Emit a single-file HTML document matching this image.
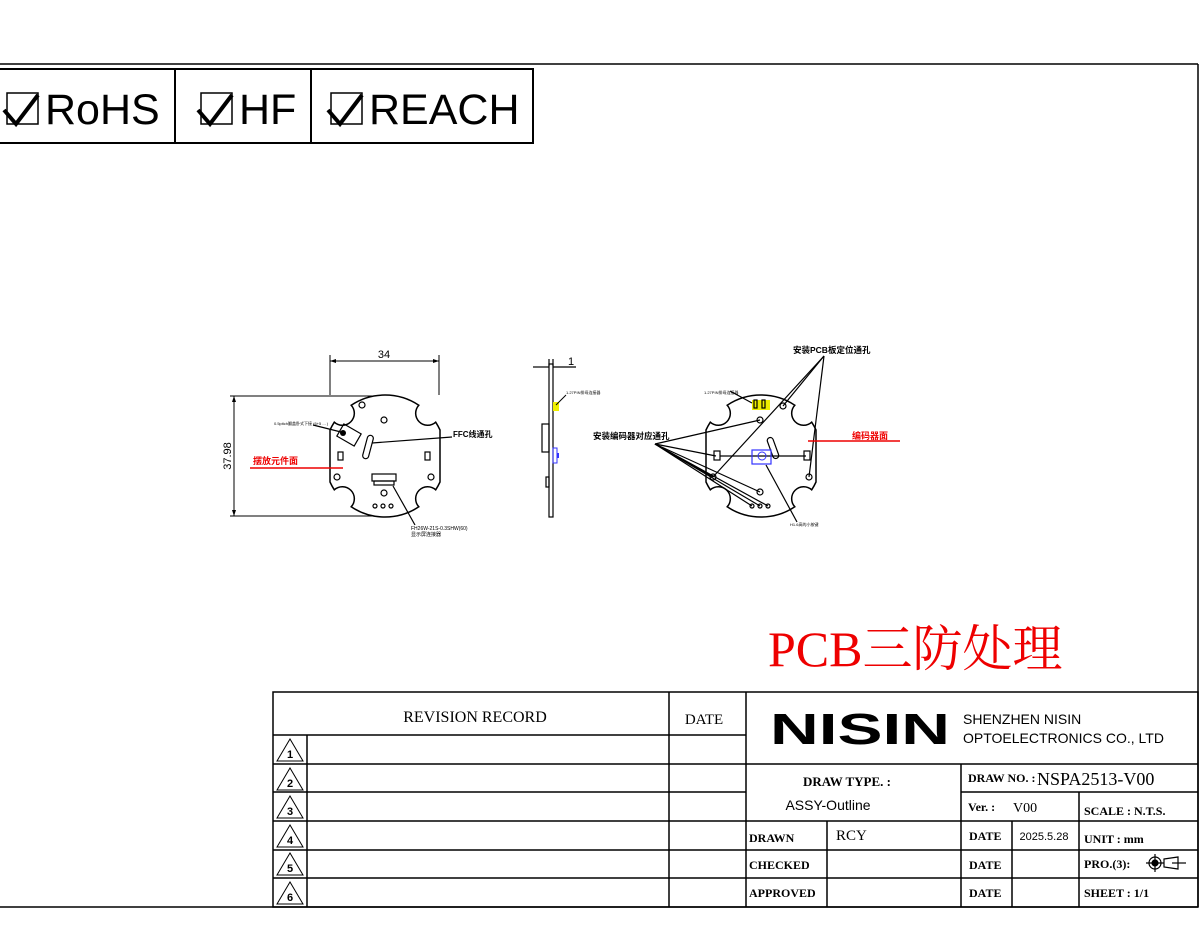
<!DOCTYPE html>
<html><head><meta charset="utf-8"><style>
html,body{margin:0;padding:0;background:#fff;}
svg{display:block;}
.s{font-family:"Liberation Sans","Noto Sans CJK SC",sans-serif;}
.m{font-family:"Liberation Serif","Noto Serif CJK SC",serif;}
</style></head><body>
<svg width="1200" height="939" viewBox="0 0 1200 939" xmlns="http://www.w3.org/2000/svg">
<defs>
<path id="pcb" fill="#fff" stroke="#000" stroke-width="1.5" d="M0,-61 A61,61 0 0 1 33.8,-50.8 A12,12 0 0 0 50.7,-33.8 A61,61 0 0 1 55,-26 L55,26 A61,61 0 0 1 50.7,33.8 A12,12 0 0 0 33.8,50.8 A61,61 0 0 1 -33.8,50.8 A12,12 0 0 0 -50.7,33.8 A61,61 0 0 1 -55,26 L-55,-26 A61,61 0 0 1 -50.7,-33.8 A12,12 0 0 0 -33.8,-50.8 A61,61 0 0 1 0,-61 Z"/>
</defs>
<line x1="0" y1="64" x2="1198" y2="64" stroke="#000" stroke-width="1.5"/>
<line x1="1198" y1="64" x2="1198" y2="907" stroke="#000" stroke-width="1.5"/>
<line x1="0" y1="907" x2="1198" y2="907" stroke="#000" stroke-width="1.5"/>
<rect x="-2" y="69" width="535" height="74" fill="none" stroke="#000" stroke-width="2"/>
<line x1="175" y1="69" x2="175" y2="143" stroke="#000" stroke-width="2"/>
<line x1="311" y1="69" x2="311" y2="143" stroke="#000" stroke-width="2"/>
<g fill="none" stroke="#000">
<rect x="7" y="93" width="31" height="31" stroke-width="1.5"/>
<path d="M4,110 L16,124 L38,95" stroke-width="4"/>
<rect x="201" y="93" width="31" height="31" stroke-width="1.5"/>
<path d="M198,110 L210,124 L232,95" stroke-width="4"/>
<rect x="331" y="93" width="31" height="31" stroke-width="1.5"/>
<path d="M328,110 L340,124 L362,95" stroke-width="4"/>
</g>
<text x="45" y="124" class="s" font-size="43">RoHS</text>
<text x="239" y="124" class="s" font-size="43">HF</text>
<text x="369" y="124" class="s" font-size="43">REACH</text>

<g stroke="#000" stroke-width="1" fill="none">
<line x1="330" y1="355" x2="330" y2="395"/>
<line x1="439" y1="355" x2="439" y2="395"/>
<line x1="330" y1="361" x2="439" y2="361"/>
<line x1="230" y1="396" x2="385" y2="396"/>
<line x1="230" y1="516" x2="385" y2="516"/>
<line x1="234" y1="396" x2="234" y2="516"/>
</g>
<path d="M330,361 l6,-2 v4z M439,361 l-6,-2 v4z M234,396 l-2,6 h4z M234,516 l-2,-6 h4z" fill="#000"/>
<text x="384" y="358" class="s" font-size="11" text-anchor="middle">34</text>
<text x="231" y="456" class="s" font-size="11" text-anchor="middle" transform="rotate(-90 231 456)">37.98</text>
<use href="#pcb" x="385" y="456"/>
<g fill="none" stroke="#000" stroke-width="1.2">
<circle cx="362" cy="405" r="3"/><circle cx="384" cy="420" r="3"/>
<circle cx="337" cy="477" r="3"/><circle cx="431" cy="477" r="3"/>
<circle cx="384" cy="493" r="3"/>
<circle cx="375" cy="506" r="2"/><circle cx="383" cy="506" r="2"/><circle cx="391" cy="506" r="2"/>
<rect x="338" y="452" width="5" height="8"/><rect x="425" y="452" width="5" height="8"/>
<rect x="339" y="428" width="20" height="14" transform="rotate(30 349 435)"/>
<rect x="365" y="435" width="6" height="24" rx="3" transform="rotate(15 368 447)"/>
<rect x="372" y="474" width="24" height="7"/><rect x="374" y="481" width="20" height="4"/>
<line x1="372" y1="443" x2="452" y2="437"/>
<line x1="393" y1="486" x2="415" y2="525"/>
<line x1="313" y1="425" x2="341" y2="432"/>
</g>
<circle cx="343" cy="433" r="3" fill="#000"/>
<text x="274" y="425" class="s" font-size="4">0.5pitch翻盖卧式下接 (6+5 ... )</text>
<text x="453" y="437" class="s" font-size="8" font-weight="bold">FFC线通孔</text>
<text x="411" y="530" class="s" font-size="5">FH26W-21S-0.3SHW(60)</text>
<text x="411" y="536" class="s" font-size="5">显示屏连接器</text>
<text x="253" y="464" class="s" font-size="9" fill="#e00" font-weight="bold">摆放元件面</text>
<line x1="250" y1="468" x2="343" y2="468" stroke="#e00" stroke-width="1.5"/>

<g stroke="#000" stroke-width="1.2" fill="none">
<rect x="549" y="364" width="4" height="153" fill="#fff"/>
<line x1="549" y1="359" x2="549" y2="366"/>
<line x1="553" y1="359" x2="553" y2="366"/>
<line x1="533" y1="367" x2="549" y2="367"/>
<line x1="553" y1="367" x2="576" y2="367"/>
<rect x="542" y="424" width="7" height="28"/>
<rect x="546" y="477" width="3" height="10"/>
</g>
<rect x="553" y="448" width="4" height="15" fill="none" stroke="#33f"/>
<rect x="557" y="453" width="2" height="5" fill="#33f"/>
<rect x="553" y="402" width="6" height="9" fill="#ee0"/>
<text x="568" y="365" class="s" font-size="11">1</text>
<line x1="556" y1="405" x2="566" y2="395" stroke="#000"/>
<text x="566" y="394" class="s" font-size="4">1.27PIN排母连接器</text>

<use href="#pcb" x="761" y="456"/>
<rect x="752" y="400" width="18" height="10" fill="#ee0"/>
<g fill="none" stroke="#000" stroke-width="1.2">
<rect x="754" y="400" width="3" height="8"/><rect x="762" y="400" width="3" height="8"/>
<circle cx="783" cy="406" r="3"/><circle cx="760" cy="420" r="3"/>
<circle cx="713" cy="477" r="3"/><circle cx="809" cy="477" r="3"/>
<circle cx="760" cy="492" r="3"/>
<circle cx="752" cy="506" r="2"/><circle cx="760" cy="506" r="2"/><circle cx="768" cy="506" r="2"/>
<rect x="714" y="451" width="6" height="9"/><rect x="804" y="451" width="6" height="9"/>
<rect x="770" y="437" width="6" height="22" rx="3" transform="rotate(-20 773 448)"/>
<line x1="655" y1="444" x2="716" y2="456"/>
<line x1="655" y1="444" x2="713" y2="477"/>
<line x1="655" y1="444" x2="760" y2="492"/>
<line x1="655" y1="444" x2="752" y2="506"/>
<line x1="655" y1="444" x2="760" y2="506"/>
<line x1="655" y1="444" x2="768" y2="506"/>
<line x1="655" y1="444" x2="760" y2="420"/>
<line x1="720" y1="456" x2="806" y2="456"/>
<line x1="824" y1="356" x2="783" y2="406"/>
<line x1="824" y1="356" x2="713" y2="477"/>
<line x1="824" y1="356" x2="809" y2="477"/>
<line x1="730" y1="391" x2="752" y2="403"/>
<line x1="766" y1="465" x2="797" y2="522"/>
</g>
<rect x="752" y="450" width="19" height="14" fill="none" stroke="#33f" stroke-width="1.2"/>
<circle cx="762" cy="456" r="4" fill="none" stroke="#33f"/>
<text x="793" y="353" class="s" font-size="8.5" font-weight="bold">安装PCB板定位通孔</text>
<text x="593" y="439" class="s" font-size="8.5" font-weight="bold">安装编码器对应通孔</text>
<text x="704" y="394" class="s" font-size="4">1.27PIN排母连接器</text>
<text x="790" y="526" class="s" font-size="4">H1.6高的小按键</text>
<text x="852" y="439" class="s" font-size="9" fill="#e00" font-weight="bold">编码器面</text>
<line x1="808" y1="441" x2="900" y2="441" stroke="#e00" stroke-width="1.5"/>

<text x="768" y="666" class="m" font-size="50" fill="#e00">PCB三防处理</text>

<g stroke="#000" stroke-width="1.5" fill="none">
<rect x="273" y="692" width="925" height="215"/>
<line x1="669" y1="692" x2="669" y2="907"/>
<line x1="746" y1="692" x2="746" y2="907"/>
<line x1="307" y1="735" x2="307" y2="907"/>
<line x1="273" y1="735" x2="746" y2="735"/>
<line x1="273" y1="764" x2="1198" y2="764"/>
<line x1="273" y1="792" x2="746" y2="792"/>
<line x1="961" y1="792" x2="1198" y2="792"/>
<line x1="273" y1="821" x2="1198" y2="821"/>
<line x1="273" y1="850" x2="1198" y2="850"/>
<line x1="273" y1="878" x2="1198" y2="878"/>
<line x1="961" y1="764" x2="961" y2="907"/>
<line x1="1079" y1="792" x2="1079" y2="907"/>
<line x1="827" y1="821" x2="827" y2="907"/>
<line x1="1012" y1="821" x2="1012" y2="907"/>
</g>
<g fill="none" stroke="#000" stroke-width="1">
<path d="M277,761 L290,739 L303,761 Z"/><path d="M277,790 L290,768 L303,790 Z"/>
<path d="M277,818 L290,796 L303,818 Z"/><path d="M277,847 L290,825 L303,847 Z"/>
<path d="M277,875 L290,853 L303,875 Z"/><path d="M277,904 L290,882 L303,904 Z"/>
</g>
<g class="s" font-size="11" text-anchor="middle" font-weight="bold">
<text x="290" y="758">1</text><text x="290" y="787">2</text><text x="290" y="815">3</text>
<text x="290" y="844">4</text><text x="290" y="872">5</text><text x="290" y="901">6</text>
</g>
<text x="475" y="722" class="m" font-size="16" text-anchor="middle">REVISION  RECORD</text>
<text x="704" y="724" class="m" font-size="15" text-anchor="middle">DATE</text>
<text x="770" y="744" class="s" font-size="44" font-weight="bold" textLength="180" lengthAdjust="spacingAndGlyphs">NISIN</text>
<text x="963" y="724" class="s" font-size="14">SHENZHEN NISIN</text>
<text x="963" y="743" class="s" font-size="14">OPTOELECTRONICS CO., LTD</text>
<text x="847" y="786" class="m" font-size="13" font-weight="bold" text-anchor="middle">DRAW  TYPE. :</text>
<text x="828" y="810" class="s" font-size="14" text-anchor="middle">ASSY-Outline</text>
<text x="968" y="782" class="m" font-size="12" font-weight="bold">DRAW NO. :</text>
<text x="1037" y="785" class="m" font-size="18">NSPA2513-V00</text>
<text x="968" y="811" class="m" font-size="12" font-weight="bold">Ver. :</text>
<text x="1013" y="812" class="m" font-size="14">V00</text>
<text x="1084" y="815" class="m" font-size="12" font-weight="bold">SCALE : N.T.S.</text>
<g class="m" font-size="12" font-weight="bold">
<text x="749" y="842">DRAWN</text><text x="749" y="869">CHECKED</text><text x="749" y="897">APPROVED</text>
<text x="969" y="840">DATE</text><text x="969" y="869">DATE</text><text x="969" y="897">DATE</text>
<text x="1084" y="843">UNIT : mm</text><text x="1084" y="868">PRO.(3):</text><text x="1084" y="897">SHEET :   1/1</text>
</g>
<text x="836" y="840" class="m" font-size="15">RCY</text>
<text x="1044" y="840" class="s" font-size="11" text-anchor="middle">2025.5.28</text>
<g fill="none" stroke="#000" stroke-width="1.2">
<circle cx="1155" cy="863" r="6"/><circle cx="1155" cy="863" r="3" fill="#000"/>
<line x1="1146" y1="863" x2="1164" y2="863"/><line x1="1155" y1="854" x2="1155" y2="872"/>
<path d="M1164,859 L1178,857 L1178,869 L1164,867 Z"/><line x1="1172" y1="863" x2="1186" y2="863"/>
</g>
</svg>
</body></html>
